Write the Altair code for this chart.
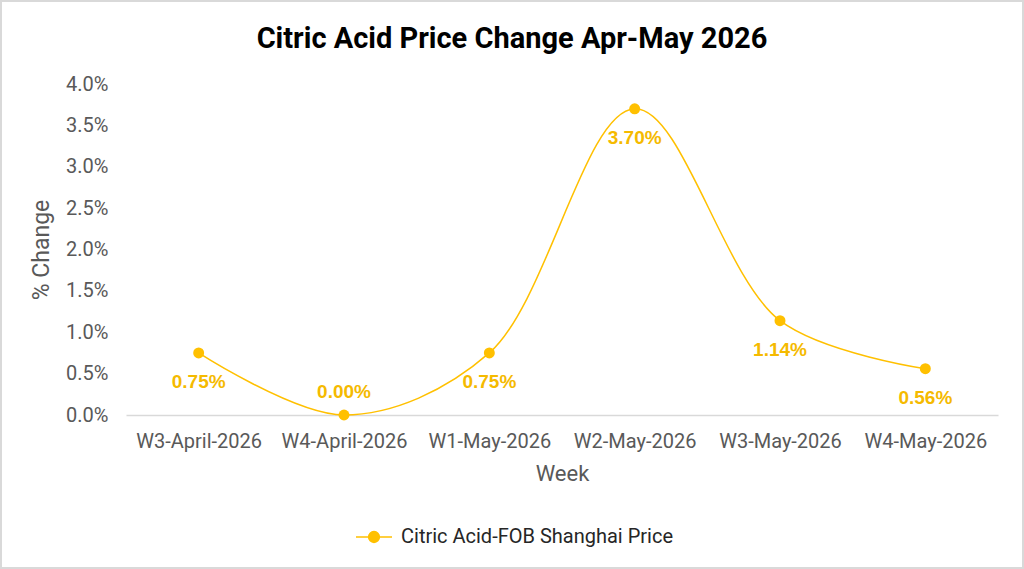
import altair as alt
import pandas as pd

weeks = ["W3-April-2026", "W4-April-2026", "W1-May-2026", "W2-May-2026", "W3-May-2026", "W4-May-2026"]
changes = [0.75, 0.00, 0.75, 3.70, 1.14, 0.56]
series_name = "Citric Acid-FOB Shanghai Price"
y_ticks = [0.0, 0.5, 1.0, 1.5, 2.0, 2.5, 3.0, 3.5, 4.0]

df = pd.DataFrame({
    "Week": weeks,
    "Change": [c / 100 for c in changes],
    "Series": [series_name] * len(weeks),
    "Label": [f"{c:.2f}%" for c in changes],
})

AX_FONT = "Roboto"
GOLD = "#FFC000"
LABEL_GOLD = "#F5BA00"

x_enc = alt.X("Week:N", sort=weeks, title="Week",
              scale=alt.Scale(paddingInner=1, paddingOuter=0.5),
              axis=alt.Axis(labelAngle=0, labelFont=AX_FONT, labelFontSize=20,
                            labelColor="#595959", titleFont=AX_FONT, titleFontSize=22,
                            titleColor="#595959", titleFontWeight="normal",
                            domainColor="#D9D9D9", domainWidth=1.5, ticks=False,
                            labelPadding=16, titlePadding=12))
y_enc = alt.Y("Change:Q", title="% Change",
              scale=alt.Scale(domain=[0, 0.04]),
              axis=alt.Axis(format=".1%", values=[v / 100 for v in y_ticks],
                            labelFont=AX_FONT, labelFontSize=20, labelColor="#595959",
                            titleFont=AX_FONT, titleFontSize=23, titleColor="#595959",
                            titleFontWeight="normal", grid=False, domain=False,
                            ticks=False, labelPadding=18, titlePadding=12))

color_enc = alt.Color("Series:N",
                      scale=alt.Scale(domain=[series_name], range=[GOLD]),
                      legend=alt.Legend(title=None, orient="none", legendX=229, legendY=434,
                                        symbolType="M-1,0L1,0M-0.3,0A0.3,0.3 0 1,0 0.3,0A0.3,0.3 0 1,0 -0.3,0Z",
                                        symbolSize=1300, symbolStrokeWidth=1.5,
                                        symbolFillColor=GOLD, symbolStrokeColor=GOLD,
                                        labelFont=AX_FONT, labelFontSize=20, labelLimit=500,
                                        labelColor="#262626", labelOffset=8))

base = alt.Chart(df)

line = base.mark_line(interpolate="catmull-rom", strokeWidth=1.5).encode(
    x=x_enc, y=y_enc, color=color_enc)
points = base.mark_point(filled=True, size=120, opacity=1).encode(
    x=x_enc, y=y_enc,
    color=alt.Color("Series:N", scale=alt.Scale(domain=[series_name], range=[GOLD]), legend=None))
labels_below = base.transform_filter("datum.Change > 0").mark_text(
    font="Liberation Sans", fontSize=19, fontWeight="bold", color=LABEL_GOLD, dy=29
).encode(x=x_enc, y=y_enc, text="Label:N")
labels_above = base.transform_filter("datum.Change <= 0").mark_text(
    font="Liberation Sans", fontSize=19, fontWeight="bold", color=LABEL_GOLD, dy=-23
).encode(x=x_enc, y=y_enc, text="Label:N")
border = alt.Chart(df).mark_rect(fill=None, stroke="#D9D9D9", strokeWidth=2).encode(
    x=alt.value(-125), x2=alt.value(897), y=alt.value(-83), y2=alt.value(484))

chart = alt.layer(border, line, points, labels_below, labels_above).properties(
    width=872, height=331,
    background="white",
    title=alt.TitleParams("Citric Acid Price Change Apr-May 2026", font=AX_FONT,
                          fontSize=29, fontWeight="bold", color="#000000",
                          anchor="middle", frame="group", dx=-50, dy=54, offset=0),
    autosize=alt.AutoSizeParams(type="none"),
    padding={"left": 126, "top": 84, "right": 26, "bottom": 154},
).configure_view(stroke=None)

chart.save("out.html", embed_options={"renderer": "svg", "actions": False})
